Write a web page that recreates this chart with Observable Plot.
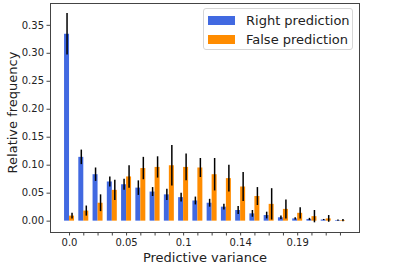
<!DOCTYPE html>
<html>
<head>
<meta charset="utf-8">
<script src="https://cdn.jsdelivr.net/npm/d3@7"></script>
<script src="https://cdn.jsdelivr.net/npm/@observablehq/plot@0.6"></script>
<style>
  html, body { margin: 0; padding: 0; background: #fff; }
  #wrap { position: relative; width: 399px; height: 265px; font-family: "DejaVu Sans", sans-serif; }
  #legend { position: absolute; left: 203px; top: 8px; width: 150px; height: 42px;
    border: 1px solid #d6d6d6; border-radius: 3px; background: rgba(255,255,255,0.8);
    box-sizing: border-box; font-size: 13px; color: #222; }
  .item { position: absolute; left: 4px; height: 15px; display: flex; align-items: center; white-space: nowrap; }
  .sw { width: 27px; height: 9px; margin-right: 11px; }
</style>
</head>
<body>
<div id="wrap"></div>
<script>
// ---- data ----
const bins = [0,1,2,3,4,5,6,7,8,9,10,11,12,13,14,15,16,17,18,19];
const labelBins = [0, 4, 8, 12, 16];
const labelTexts = ["0.0", "0.05", "0.1", "0.14", "0.19"];
const seriesNames = ["Right prediction", "False prediction"];
const seriesColors = ["#4169E1", "#FF8C00"];
const rightMean = [0.334,0.114,0.083,0.070,0.065,0.059,0.052,0.047,0.042,0.036,0.032,0.025,0.019,0.013,0.010,0.006,0.004,0.003,0.002,0.001];
const rightErr  = [0.037,0.013,0.012,0.009,0.010,0.013,0.008,0.010,0.008,0.007,0.007,0.005,0.007,0.006,0.006,0.003,0.002,0.002,0.001,0.001];
const falseMean = [0.009,0.018,0.032,0.055,0.079,0.094,0.096,0.099,0.096,0.095,0.083,0.076,0.061,0.044,0.030,0.021,0.014,0.008,0.004,0.001];
const falseErr  = [0.005,0.009,0.015,0.018,0.020,0.020,0.019,0.036,0.024,0.017,0.029,0.024,0.026,0.016,0.028,0.017,0.010,0.011,0.006,0.002];
const yTicks = [0, 0.05, 0.10, 0.15, 0.20, 0.25, 0.30, 0.35];

// ---- build table ----
const W = 0.35;
const means = [rightMean, falseMean];
const errs = [rightErr, falseErr];
const rows = [];
seriesNames.forEach((name, s) => {
  bins.forEach((b, i) => {
    rows.push({bin: b, s, name, value: means[s][i], err: errs[s][i]});
  });
});
const x1 = d => d.s === 0 ? d.bin - W : d.bin;
const x2 = d => d.s === 0 ? d.bin : d.bin + W;
const xc = d => d.s === 0 ? d.bin - W / 2 : d.bin + W / 2;
const labelMap = new Map(labelBins.map((b, i) => [b, labelTexts[i]]));

const chart = Plot.plot({
  width: 399,
  height: 265,
  marginLeft: 50,
  marginRight: 40,
  marginTop: 3,
  marginBottom: 33,
  style: {fontFamily: "DejaVu Sans, sans-serif", background: "#fff", color: "#222"},
  x: {type: "linear", domain: [-0.35 - 0.985, 19.35 + 0.985]},
  y: {domain: [-0.0203, 0.389]},
  color: {domain: seriesNames, range: seriesColors},
  marks: [
    Plot.rectY(rows, {x1, x2, y1: 0, y2: "value", fill: "name"}),
    Plot.ruleX(rows, {x: xc, y1: d => d.value - d.err, y2: d => d.value + d.err, stroke: "#000", strokeWidth: 1.5}),
    Plot.frame({stroke: "#444", strokeWidth: 1}),
    Plot.axisX({ticks: bins, tickSize: 3.5, tickPadding: 3, tickFormat: b => labelMap.get(b) ?? "", fontSize: 10, label: null, stroke: "#444"}),
    Plot.axisY({ticks: yTicks, tickSize: 3.5, tickPadding: 3, tickFormat: d => d.toFixed(2), fontSize: 10, label: null, stroke: "#444"}),
    Plot.text(["Predictive variance"], {frameAnchor: "bottom", lineAnchor: "middle", dy: 25, fontSize: 13, fill: "#222"}),
    Plot.text(["Relative frequency"], {frameAnchor: "left", textAnchor: "middle", lineAnchor: "middle", dx: -38, dy: -5.5, rotate: -90, fontSize: 13, fill: "#222"})
  ]
});

const wrap = document.getElementById("wrap");
wrap.appendChild(chart);

// legend inside the plot area
const legend = document.createElement("div");
legend.id = "legend";
seriesNames.forEach((name, i) => {
  const item = document.createElement("div");
  item.className = "item";
  item.style.top = (4 + i * 19) + "px";
  const sw = document.createElement("span");
  sw.className = "sw";
  sw.style.background = seriesColors[i];
  const t = document.createElement("span");
  t.textContent = name;
  item.appendChild(sw);
  item.appendChild(t);
  legend.appendChild(item);
});
wrap.appendChild(legend);
</script>
</body>
</html>
